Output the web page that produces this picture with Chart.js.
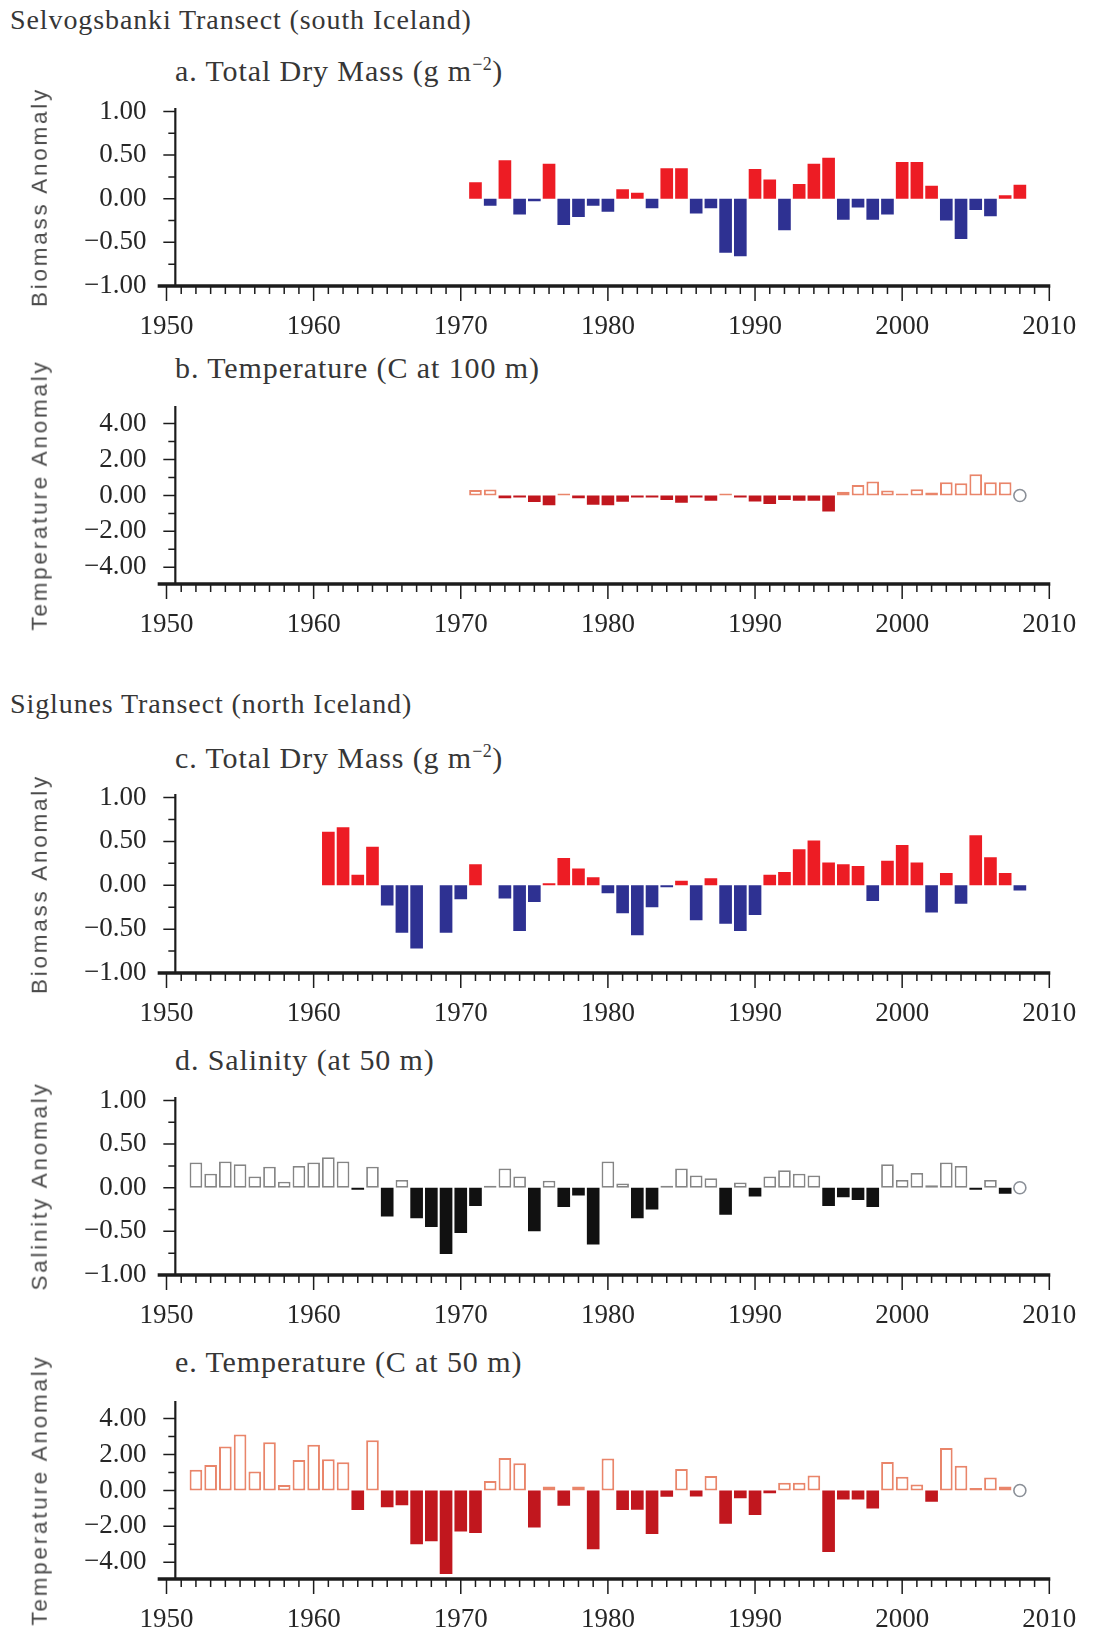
<!DOCTYPE html>
<html>
<head>
<meta charset="utf-8">
<title>Iceland transects - anomalies</title>
<script src="https://cdn.jsdelivr.net/npm/chart.js@4.4.1/dist/chart.umd.min.js"></script>
<style>
  html, body { margin: 0; padding: 0; background: #fff; }
  body { position: relative; width: 1095px; height: 1632px; overflow: hidden; }
  .label {
    position: absolute; white-space: nowrap; line-height: 1; transform: translateY(-50%);
    font-family: 'Liberation Serif', 'Times New Roman', serif; color: #363636; letter-spacing: 0.9px;
  }
  .section { font-size: 28px; left: 10px; }
  .ptitle { font-size: 30px; left: 175px; }
  .ptitle sup { font-size: 0.6em; vertical-align: 0; position: relative; top: -0.6em; letter-spacing: 0.5px; }
  .ytitle {
    position: absolute; white-space: nowrap; line-height: 1;
    font-family: 'Liberation Sans', Arial, sans-serif; font-size: 22.5px; letter-spacing: 2.75px; color: #4a4a4a;
    transform: translate(-50%, -50%) rotate(-90deg);
  }
  .panel { position: absolute; left: 0; width: 1095px; }
</style>
</head>
<body>
<div class="label section" style="top:20px">Selvogsbanki Transect (south Iceland)</div>
<div class="label ptitle" style="top:71px">a. Total Dry Mass (g m<sup>−2</sup>)</div>
<div class="label ptitle" style="top:368px">b. Temperature (C at 100 m)</div>
<div class="label section" style="top:704px">Siglunes Transect (north Iceland)</div>
<div class="label ptitle" style="top:758px">c. Total Dry Mass (g m<sup>−2</sup>)</div>
<div class="label ptitle" style="top:1060px">d. Salinity (at 50 m)</div>
<div class="label ptitle" style="top:1362px">e. Temperature (C at 50 m)</div>

<script>
// --- Data ---
const xTicks = [1950, 1960, 1970, 1980, 1990, 2000, 2010];
const biomassTicks = [-1, -0.5, 0, 0.5, 1];
const biomassMinor = [-0.75, -0.25, 0.25, 0.75];
const tempTicks = [-4, -2, 0, 2, 4];
const tempMinor = [-3, -1, 1, 3];

// a. Selvogsbanki, total dry mass
const selvBiomassYears = [1971, 1972, 1973, 1974, 1975, 1976, 1977, 1978, 1979, 1980,
  1981, 1982, 1983, 1984, 1985, 1986, 1987, 1988, 1989, 1990,
  1991, 1992, 1993, 1994, 1995, 1996, 1997, 1998, 1999, 2000,
  2001, 2002, 2003, 2004, 2005, 2006, 2007, 2008];
const selvBiomass = [0.19, -0.08, 0.44, -0.18, -0.03, 0.40, -0.30, -0.21, -0.08, -0.15,
  0.11, 0.07, -0.11, 0.35, 0.35, -0.17, -0.11, -0.62, -0.66, 0.34,
  0.22, -0.36, 0.17, 0.40, 0.47, -0.24, -0.10, -0.24, -0.18, 0.42,
  0.42, 0.15, -0.25, -0.46, -0.13, -0.20, 0.04, 0.16];

// b. Selvogsbanki, temperature at 100 m
const selvTempYears = [1971, 1972, 1973, 1974, 1975, 1976, 1977, 1978, 1979, 1980,
  1981, 1982, 1983, 1984, 1985, 1986, 1987, 1988, 1989, 1990,
  1991, 1992, 1993, 1994, 1995, 1996, 1997, 1998, 1999, 2000,
  2001, 2002, 2003, 2004, 2005, 2006, 2007];
const selvTemp = [0.30, 0.33, -0.15, -0.04, -0.37, -0.55, 0.10, -0.15, -0.52, -0.55,
  -0.35, -0.12, -0.06, -0.25, -0.40, -0.10, -0.30, 0.05, -0.06, -0.33,
  -0.48, -0.25, -0.30, -0.30, -0.90, 0.20, 0.58, 0.77, 0.27, 0.08,
  0.35, 0.17, 0.73, 0.68, 1.18, 0.73, 0.73];
const selvTempMissing = [2008];

// c. Siglunes, total dry mass (no samples 1968, 1972)
const sigBiomassYears = [1961, 1962, 1963, 1964, 1965, 1966, 1967, 1969, 1970,
  1971, 1973, 1974, 1975, 1976, 1977, 1978, 1979, 1980,
  1981, 1982, 1983, 1984, 1985, 1986, 1987, 1988, 1989, 1990,
  1991, 1992, 1993, 1994, 1995, 1996, 1997, 1998, 1999, 2000,
  2001, 2002, 2003, 2004, 2005, 2006, 2007, 2008];
const sigBiomass = [0.61, 0.66, 0.12, 0.44, -0.23, -0.54, -0.72, -0.54, -0.16,
  0.24, -0.15, -0.52, -0.19, 0.02, 0.31, 0.19, 0.09, -0.09,
  -0.32, -0.57, -0.25, -0.02, 0.05, -0.40, 0.08, -0.44, -0.52, -0.34,
  0.12, 0.15, 0.41, 0.51, 0.26, 0.24, 0.22, -0.18, 0.28, 0.46,
  0.26, -0.31, 0.14, -0.21, 0.57, 0.32, 0.14, -0.06];

// d. Siglunes, salinity at 50 m
const sigSalYears = [1952, 1953, 1954, 1955, 1956, 1957, 1958, 1959, 1960,
  1961, 1962, 1963, 1964, 1965, 1966, 1967, 1968, 1969, 1970,
  1971, 1972, 1973, 1974, 1975, 1976, 1977, 1978, 1979, 1980,
  1981, 1982, 1983, 1984, 1985, 1986, 1987, 1988, 1989, 1990,
  1991, 1992, 1993, 1994, 1995, 1996, 1997, 1998, 1999, 2000,
  2001, 2002, 2003, 2004, 2005, 2006, 2007];
const sigSal = [0.29, 0.16, 0.30, 0.27, 0.13, 0.24, 0.07, 0.25, 0.29,
  0.35, 0.30, -0.02, 0.24, -0.33, 0.09, -0.35, -0.45, -0.76, -0.52,
  -0.21, 0.02, 0.22, 0.13, -0.50, 0.08, -0.22, -0.09, -0.65, 0.30,
  0.05, -0.35, -0.25, 0.02, 0.22, 0.14, 0.11, -0.31, 0.06, -0.10,
  0.13, 0.20, 0.16, 0.14, -0.21, -0.11, -0.14, -0.22, 0.27, 0.09,
  0.17, 0.03, 0.29, 0.25, -0.02, 0.09, -0.07];
const sigSalMissing = [2008];

// e. Siglunes, temperature at 50 m
const sigTempYears = sigSalYears;
const sigTemp = [1.15, 1.41, 2.44, 3.12, 1.06, 2.69, 0.31, 1.69, 2.54,
  1.74, 1.57, -1.09, 2.80, -0.94, -0.83, -3.00, -2.83, -4.65, -2.28,
  -2.37, 0.52, 1.81, 1.52, -2.06, 0.22, -0.85, 0.22, -3.28, 1.78,
  -1.09, -1.07, -2.43, -0.35, 1.19, -0.33, 0.81, -1.85, -0.44, -1.37,
  -0.15, 0.43, 0.43, 0.83, -3.43, -0.50, -0.50, -1.00, 1.59, 0.76,
  0.33, -0.63, 2.37, 1.37, 0.13, 0.72, 0.22];
const sigTempMissing = [2008];

// --- Layout ---
const SERIF = "'Liberation Serif', 'Times New Roman', serif";
const AREA_LEFT = 166.5;    // pixel of 1950
const AREA_RIGHT = 1049.3;  // pixel of 2010
const AXIS_AT = 1950.6;     // y axis sits just right of the 1950 tick
const X_AXIS_H = 60;
const PAD_TOP = 8;

Chart.defaults.font.family = SERIF;

const fmt = v => (v < 0 ? '\u2212' : '') + Math.abs(v).toFixed(2);

// axis lines and minor/major tick marks, drawn through the chart's scales
const axisMarks = {
  id: 'axisMarks',
  afterDraw(chart, args, o) {
    const { ctx, chartArea: a, scales: { x, y } } = chart;
    const ax = x.getPixelForValue(AXIS_AT);
    ctx.save();
    ctx.strokeStyle = '#1c1c1c';
    ctx.lineWidth = 2.2;
    ctx.beginPath();
    ctx.moveTo(ax, a.top);
    ctx.lineTo(ax, a.bottom);
    ctx.stroke();

    ctx.lineWidth = 1.5;
    ctx.beginPath();
    o.major.forEach(v => { const py = y.getPixelForValue(v); ctx.moveTo(ax - 12, py); ctx.lineTo(ax, py); });
    o.minor.forEach(v => { const py = y.getPixelForValue(v); ctx.moveTo(ax - 7, py); ctx.lineTo(ax, py); });
    ctx.stroke();

    const base = a.bottom;
    ctx.lineWidth = 3.5;
    ctx.beginPath();
    ctx.moveTo(x.getPixelForValue(1949.4), base);
    ctx.lineTo(x.getPixelForValue(2010) + 1, base);
    ctx.stroke();

    ctx.lineWidth = 1.5;
    ctx.beginPath();
    for (let yr = x.min; yr <= x.max; yr++) {
      const px = x.getPixelForValue(yr);
      const len = yr % 10 === 0 ? 15 : 8;
      ctx.moveTo(px, base);
      ctx.lineTo(px, base + len);
    }
    ctx.stroke();
    ctx.restore();
  }
};

function buildPanel(p) {
  const top = p.areaTop - PAD_TOP;
  const height = p.areaBottom - top + X_AXIS_H;

  const box = document.createElement('div');
  box.className = 'panel';
  box.style.top = top + 'px';
  box.style.height = height + 'px';
  const canvas = document.createElement('canvas');
  canvas.width = 1095;
  canvas.height = height;
  box.appendChild(canvas);
  document.body.appendChild(box);

  const yt = document.createElement('div');
  yt.className = 'ytitle';
  yt.textContent = p.yTitle;
  yt.style.left = '40px';
  yt.style.top = ((p.areaTop + p.areaBottom) / 2) + 'px';
  document.body.appendChild(yt);

  const val = c => (c.raw ? c.raw.y : 0);
  const datasets = [{
    type: 'bar',
    data: p.years.map((yr, i) => ({ x: yr, y: p.values[i] })),
    backgroundColor: c => val(c) >= 0 ? p.posFill : p.negFill,
    borderColor: c => val(c) >= 0 ? p.posLine : p.negLine,
    // filled bars get no outline; open (white) bars keep theirs
    borderWidth: c => val(c) >= 0 ? p.posBorder : 0,
    borderSkipped: false,
    minBarLength: 2,
    barPercentage: 0.86,
    categoryPercentage: 1
  }];
  if (p.missing) {
    datasets.push({
      type: 'scatter',
      data: p.missing.map(yr => ({ x: yr, y: 0 })),
      pointRadius: 6,
      pointBorderWidth: 1.6,
      pointBorderColor: '#8b9098',
      pointBackgroundColor: '#fff'
    });
  }

  new Chart(canvas, {
    type: 'bar',
    data: { datasets },
    plugins: [axisMarks],
    options: {
      responsive: false,
      animation: false,
      layout: { padding: { left: 0, right: 1095 - AREA_RIGHT, top: PAD_TOP, bottom: 0 } },
      plugins: {
        legend: { display: false },
        tooltip: { enabled: false },
        axisMarks: { major: p.ticks, minor: p.minor }
      },
      scales: {
        x: {
          type: 'linear', min: 1950, max: 2010, offset: false,
          afterBuildTicks: s => { s.ticks = xTicks.map(v => ({ value: v })); },
          afterFit: s => { s.height = X_AXIS_H; s.paddingLeft = 0; s.paddingRight = 0; },
          grid: { display: false, drawTicks: false },
          border: { display: false },
          ticks: {
            autoSkip: false, maxRotation: 0, padding: 25, color: '#262626',
            font: { family: SERIF, size: 27 },
            callback: v => String(v)
          }
        },
        y: {
          type: 'linear', min: p.yMin, max: p.yMax,
          afterBuildTicks: s => { s.ticks = p.ticks.map(v => ({ value: v })); },
          afterFit: s => { s.width = AREA_LEFT; s.paddingTop = 0; s.paddingBottom = 0; },
          grid: { display: false, drawTicks: false },
          border: { display: false },
          ticks: {
            padding: 20, color: '#262626',
            font: { family: SERIF, size: 27 },
            callback: v => fmt(v)
          }
        }
      }
    }
  });
}

const RED = '#ed1c24', BLUE = '#2e3192';
const DARK_RED = '#c1171e', SALMON = '#e9856a';

buildPanel({
  areaTop: 108, areaBottom: 286, yMin: -1, yMax: 1.04,
  ticks: biomassTicks, minor: biomassMinor, yTitle: 'Biomass Anomaly',
  years: selvBiomassYears, values: selvBiomass,
  posFill: RED, posLine: RED, negFill: BLUE, negLine: BLUE, posBorder: 0
});
buildPanel({
  areaTop: 406, areaBottom: 584, yMin: -4.93, yMax: 4.98,
  ticks: tempTicks, minor: tempMinor, yTitle: 'Temperature Anomaly',
  years: selvTempYears, values: selvTemp, missing: selvTempMissing,
  posFill: '#fff', posLine: SALMON, negFill: DARK_RED, negLine: DARK_RED, posBorder: 2
});
buildPanel({
  areaTop: 794, areaBottom: 973, yMin: -1, yMax: 1.04,
  ticks: biomassTicks, minor: biomassMinor, yTitle: 'Biomass Anomaly',
  years: sigBiomassYears, values: sigBiomass,
  posFill: RED, posLine: RED, negFill: BLUE, negLine: BLUE, posBorder: 0
});
buildPanel({
  areaTop: 1097, areaBottom: 1275, yMin: -1, yMax: 1.04,
  ticks: biomassTicks, minor: biomassMinor, yTitle: 'Salinity Anomaly',
  years: sigSalYears, values: sigSal, missing: sigSalMissing,
  posFill: '#fff', posLine: '#858585', negFill: '#111', negLine: '#111', posBorder: 1.8
});
buildPanel({
  areaTop: 1401, areaBottom: 1579, yMin: -4.93, yMax: 4.98,
  ticks: tempTicks, minor: tempMinor, yTitle: 'Temperature Anomaly',
  years: sigTempYears, values: sigTemp, missing: sigTempMissing,
  posFill: '#fff', posLine: SALMON, negFill: DARK_RED, negLine: DARK_RED, posBorder: 2
});
</script>
</body>
</html>
